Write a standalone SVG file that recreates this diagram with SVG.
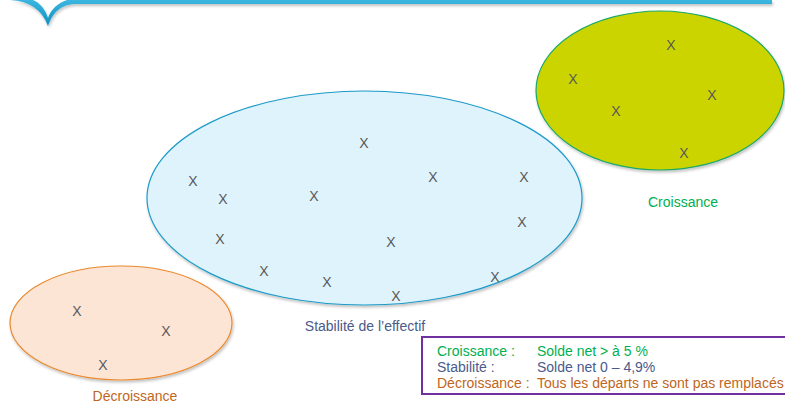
<svg xmlns="http://www.w3.org/2000/svg" width="785" height="406" viewBox="0 0 785 406">
  <defs>
    <filter id="shadow" x="-10%" y="-10%" width="120%" height="130%">
      <feGaussianBlur in="SourceAlpha" stdDeviation="1.5"/>
      <feOffset dx="1" dy="2" result="b"/>
      <feComponentTransfer><feFuncA type="linear" slope="0.25"/></feComponentTransfer>
      <feMerge><feMergeNode/><feMergeNode in="SourceGraphic"/></feMerge>
    </filter>
    <linearGradient id="barGrad" x1="0" y1="0" x2="0" y2="1">
      <stop offset="0" stop-color="#3bb6e0"/>
      <stop offset="1" stop-color="#0f8fc0"/>
    </linearGradient>
  </defs>
  <style>
    .x { font-family: "Liberation Sans", Arial, sans-serif; font-size: 14px; fill: #595959; text-anchor: middle; }
    .lbl { font-family: "Liberation Sans", Arial, sans-serif; font-size: 14px; text-anchor: middle; }
    .leg { font-family: "Liberation Sans", Arial, sans-serif; font-size: 14px; }
    .green { fill: #00b050; }
    .slate { fill: #4a5a8c; }
    .orange { fill: #c0661c; }
  </style>

  <rect width="785" height="406" fill="#ffffff"/>

  <!-- header rule with pointed downward notch -->
  <path d="M 10 0 C 30 1 42 10 48 26 C 54 10 62 5 75 4 L 772 4 L 772 0 L 67 0 C 58 3 51 9 48 18 C 45 9 40 3 33 0 Z" fill="url(#barGrad)" filter="url(#shadow)"/>

  <!-- growth group -->
  <g id="croissance">
    <ellipse cx="660" cy="90.5" rx="124" ry="79.5" fill="#ccd400" stroke="#1aa86a" stroke-width="1.2" filter="url(#shadow)"/>
    <text class="x" x="671" y="50">X</text>
    <text class="x" x="573" y="84">X</text>
    <text class="x" x="616" y="116">X</text>
    <text class="x" x="712" y="100">X</text>
    <text class="x" x="684" y="158">X</text>
    <text class="lbl green" x="683" y="207">Croissance</text>
  </g>

  <!-- stable group -->
  <g id="stabilite">
    <ellipse cx="364.5" cy="198" rx="217.5" ry="107" fill="#dff3fd" stroke="#1e9bc8" stroke-width="1.2" filter="url(#shadow)"/>
    <text class="x" x="364" y="148">X</text>
    <text class="x" x="193" y="186">X</text>
    <text class="x" x="223" y="204">X</text>
    <text class="x" x="314" y="201">X</text>
    <text class="x" x="433" y="182">X</text>
    <text class="x" x="524" y="182">X</text>
    <text class="x" x="220" y="244">X</text>
    <text class="x" x="391" y="247">X</text>
    <text class="x" x="522" y="227">X</text>
    <text class="x" x="264" y="276">X</text>
    <text class="x" x="327" y="287">X</text>
    <text class="x" x="396" y="301">X</text>
    <text class="x" x="495" y="282">X</text>
    <text class="lbl slate" x="365" y="331">Stabilité de l’effectif</text>
  </g>

  <!-- decline group -->
  <g id="decroissance">
    <ellipse cx="121" cy="323" rx="111" ry="57" fill="#fde5d6" stroke="#ea8a2e" stroke-width="1.2" filter="url(#shadow)"/>
    <text class="x" x="77" y="316">X</text>
    <text class="x" x="166" y="336">X</text>
    <text class="x" x="103" y="370">X</text>
    <text class="lbl orange" x="135" y="401">Décroissance</text>
  </g>

  <!-- legend -->
  <g id="legende">
    <rect x="422" y="337" width="380" height="57" fill="#ffffff" stroke="#7030a0" stroke-width="2"/>
    <text class="leg green" x="437" y="356">Croissance :</text>
    <text class="leg green" x="537" y="356">Solde net &gt; à 5 %</text>
    <text class="leg slate" x="437" y="372">Stabilité :</text>
    <text class="leg slate" x="537" y="372">Solde net 0 – 4,9%</text>
    <text class="leg orange" x="437" y="388">Décroissance :</text>
    <text class="leg orange" x="537" y="388">Tous les départs ne sont pas remplacés</text>
  </g>
</svg>
